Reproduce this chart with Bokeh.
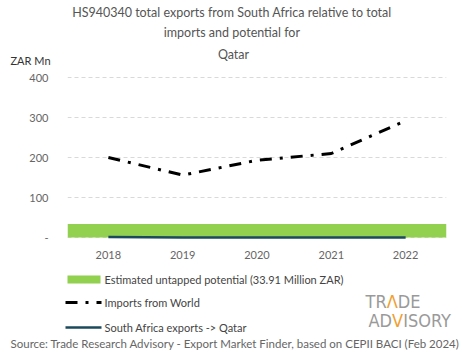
from bokeh.plotting import figure
from bokeh.models import FixedTicker, Range1d
from bokeh.layouts import column
from bokeh.core.properties import value
from bokeh.embed import file_html
from bokeh.resources import INLINE

# ---- data ----
years = [2018, 2019, 2020, 2021, 2022]
year_labels = ["2018", "2019", "2020", "2021", "2022"]
imports_world = [200, 156, 193, 210, 292]
sa_exports_qatar = [1.5, 0.3, 0.2, 0.2, 0.2]
untapped_potential = 33.91
y_ticks = [0, 100, 200, 300, 400]
y_tick_labels = {0: "-", 100: "100", 200: "200", 300: "300", 400: "400"}

title_lines = ["HS940340 total exports from South Africa relative  to total",
               "imports and potential  for",
               "Qatar"]
y_unit = "ZAR Mn"
legend_labels = ["Estimated untapped potential (33.91 Million ZAR)",
                 "Imports from World",
                 "South Africa exports -> Qatar"]
source_text = "Source: Trade Research Advisory - Export Market Finder, based on CEPII BACI (Feb 2024)"

FONT = "Lato"
GREEN = "#92d050"
TEAL = "#1b4a5c"
GRAY = "#666666"
DASH = "12 8 3 8"
W = 465


def blank(h, top):
    f = figure(width=W, height=h, output_backend="svg", toolbar_location=None,
               x_range=Range1d(0, W), y_range=Range1d(top + h, top),
               min_border=0, min_border_left=0, min_border_right=0,
               min_border_top=0, min_border_bottom=0, frame_align=False)
    f.axis.visible = False
    f.grid.visible = False
    f.outline_line_color = None
    return f


# ---- header ----
HEAD = 66
head = blank(HEAD, 0)
head.text(x=[233] * 3, y=[12, 32, 54], text=title_lines, text_align="center",
          text_baseline="middle", text_font=value(FONT), text_font_size="12.5px",
          text_color="#555555")
head.text(x=[10], y=[60], text=[y_unit], text_align="left", text_baseline="middle",
          text_font=value(FONT), text_font_size="11px", text_color="#333333")

# ---- chart ----
FRAME_TOP, FRAME_BOT, CHART_BOT = 75, 240, 265
p = figure(width=W, height=CHART_BOT - HEAD, output_backend="svg", toolbar_location=None,
           x_range=Range1d(2017.45, 2022.55), y_range=Range1d(-7.5, 405),
           min_border_left=67, min_border_right=19, min_border_top=FRAME_TOP - HEAD,
           min_border_bottom=CHART_BOT - FRAME_BOT, frame_align=False)
p.outline_line_color = None
p.xgrid.grid_line_color = None
p.ygrid.grid_line_color = "#d9d9d9"
p.ygrid.grid_line_dash = "4 3"
p.xaxis.ticker = FixedTicker(ticks=years)
p.xaxis.major_label_overrides = {y: l for y, l in zip(years, year_labels)}
p.yaxis.ticker = FixedTicker(ticks=y_ticks)
p.yaxis.major_label_overrides = y_tick_labels
for ax in (p.xaxis[0], p.yaxis[0]):
    ax.axis_line_color = None
    ax.major_tick_line_color = None
    ax.minor_tick_line_color = None
    ax.major_label_text_font = FONT
    ax.major_label_text_font_size = "11px"
    ax.major_label_text_color = GRAY
p.yaxis.major_label_standoff = 13
p.xaxis.major_label_standoff = 4

p.hbar(y=[untapped_potential / 2], height=[untapped_potential], left=2017.45,
       right=2022.55, fill_color=GREEN, line_color=None)
p.line(years, imports_world, line_color="black", line_width=3, line_dash=DASH)
p.line(years, sa_exports_qatar, line_color=TEAL, line_width=2.5)

# ---- footer ----
foot = blank(359 - CHART_BOT, CHART_BOT)
foot.quad(left=67, right=100, top=275, bottom=283, fill_color=GREEN, line_color=None)
foot.line([65, 101], [302, 302], line_color="black", line_width=3, line_dash=DASH)
foot.line([65, 101], [327, 327], line_color=TEAL, line_width=2.5)
foot.text(x=[104] * 3, y=[279, 302, 327], text=legend_labels, text_align="left",
          text_baseline="middle", text_font=value(FONT), text_font_size="11px",
          text_color="#444444")
foot.text(x=[10], y=[343], text=[source_text], text_align="left", text_baseline="middle",
          text_font=value(FONT), text_font_size="11.5px", text_color=GRAY)

LOGO_GRAY = "#9a9a9a"
ORANGE = "#f0a030"
LF = value("DejaVu Sans Condensed")
foot.text(x=[365, 397.3, 368, 402.7], y=[301, 301, 320, 320],
          text=["TR", "DE", "AD", "ISORY"], text_align="left", text_baseline="middle",
          text_font=LF, text_font_size="18px", text_color=LOGO_GRAY)
foot.text(x=[386.2, 391.6], y=[301, 320], text=["Λ", "V"], text_align="left",
          text_baseline="middle", text_font=LF, text_font_size="18px", text_color=ORANGE)

layout = column(head, p, foot, spacing=0)
open("out.html", "w").write(file_html(layout, INLINE))
